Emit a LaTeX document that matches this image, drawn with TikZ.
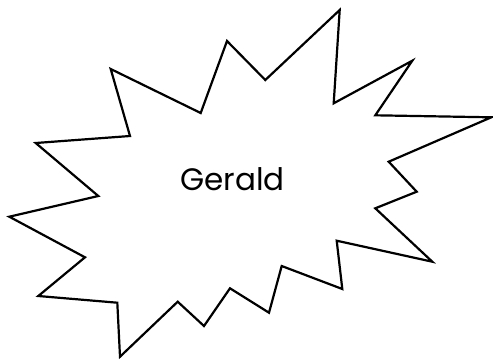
\documentclass[tikz,border=0pt]{standalone}
\usepackage{fontspec}
\setmainfont{Poppins}
\usetikzlibrary{positioning}

\begin{document}
\begin{tikzpicture}[
    x=1pt, y=-1pt,
    burst/.style={draw=black, line width=2.2pt, line join=miter, fill=white},
    label/.style={font=\fontsize{31}{36}\selectfont, text=black, inner sep=0pt},
  ]

  \useasboundingbox (0,0) rectangle (493,360);

  % Burst outline
  \draw[burst] (227,41) -- (265.3,80) -- (339.7,10) -- (333.7,103.3)
    -- (412.3,60.7) -- (375.3,115.3) -- (491.3,117.3) -- (388.7,161.7)
    -- (416.7,191.7) -- (375.3,208.3) -- (432.3,261.7) -- (336.7,240.7)
    -- (342.3,289) -- (281.7,266) -- (269,312.7) -- (230,288.3)
    -- (204,326) -- (177.7,301.7) -- (120,356.7) -- (117.3,302.7)
    -- (38.3,296) -- (85,257.3) -- (9.3,216.7) -- (98.3,196)
    -- (35.7,143) -- (130,136) -- (110.7,69) -- (200.7,113) -- cycle;

  % Name
  \node[label] (gerald) at (232.5,179) {Gerald};

\end{tikzpicture}
\end{document}
